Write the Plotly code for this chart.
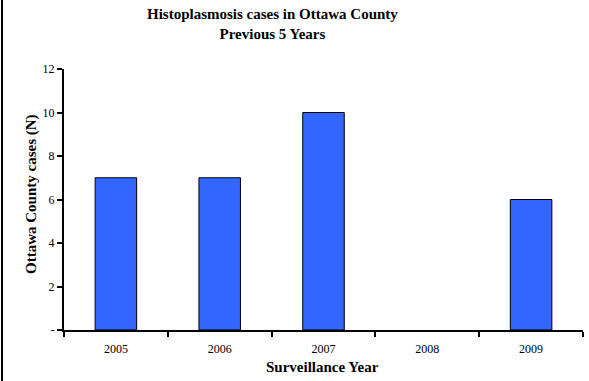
import plotly.graph_objects as go

years = ["2005", "2006", "2007", "2008", "2009"]
cases = [7, 7, 10, 0, 6]
y_ticks = [0, 2, 4, 6, 8, 10, 12]
y_tick_labels = ["-", "2", "4", "6", "8", "10", "12"]

font_family = "Liberation Serif, Times New Roman, serif"

fig = go.Figure(go.Bar(
    x=years, y=cases, width=0.4,
    marker=dict(color="#3366FF",
                line=dict(color="#000000", width=[1 if v else 0 for v in cases])),
))

W, H = 589, 381
L, R, T, B = 64, 6, 69, 51
pw = W - L - R
ph = H - T - B

def px_x(p):
    return (p - L) / pw

def px_y(p):
    return (H - B - p) / ph

fig.update_layout(
    width=W, height=H,
    margin=dict(l=L, r=R, t=T, b=B),
    paper_bgcolor="white", plot_bgcolor="white",
    showlegend=False,
    font=dict(family=font_family, color="black"),
    xaxis=dict(
        type="category", showgrid=False, showline=True, linecolor="black", linewidth=2,
        ticks="outside", tickson="boundaries", ticklen=5, tickwidth=2, tickcolor="black",
        ticklabelstandoff=7,
        tickfont=dict(size=12, family=font_family), range=[-0.5, 4.5],
    ),
    yaxis=dict(
        range=[0, 12], showgrid=False, zeroline=False, showline=True, linecolor="black", linewidth=2,
        ticks="outside", ticklen=5, tickwidth=2, tickcolor="black",
        tickvals=y_ticks, ticktext=y_tick_labels, tickfont=dict(size=12, family=font_family),
    ),
    annotations=[
        dict(text="<b>Histoplasmosis cases in Ottawa County<br>Previous 5 Years</b>",
             xref="paper", yref="paper", x=px_x(272), y=px_y(24), xanchor="center", yanchor="middle",
             showarrow=False, font=dict(size=15, family=font_family)),
        dict(text="<b>Surveillance Year</b>", xref="paper", yref="paper",
             x=px_x(322), y=px_y(367), xanchor="center", yanchor="middle",
             showarrow=False, font=dict(size=15, family=font_family)),
        dict(text="<b>Ottawa County cases (N)</b>", xref="paper", yref="paper",
             x=px_x(31), y=px_y(194), xanchor="center", yanchor="middle", textangle=-90,
             showarrow=False, font=dict(size=15, family=font_family)),
    ],
    shapes=[
        dict(type="line", xref="paper", yref="paper", x0=px_x(2), x1=px_x(2),
             y0=px_y(0), y1=px_y(H), line=dict(color="black", width=2)),
    ],
)

fig.write_html("out.html", config={"displayModeBar": False},
               post_script="document.body.style.margin='0';document.body.style.overflow='hidden';")
